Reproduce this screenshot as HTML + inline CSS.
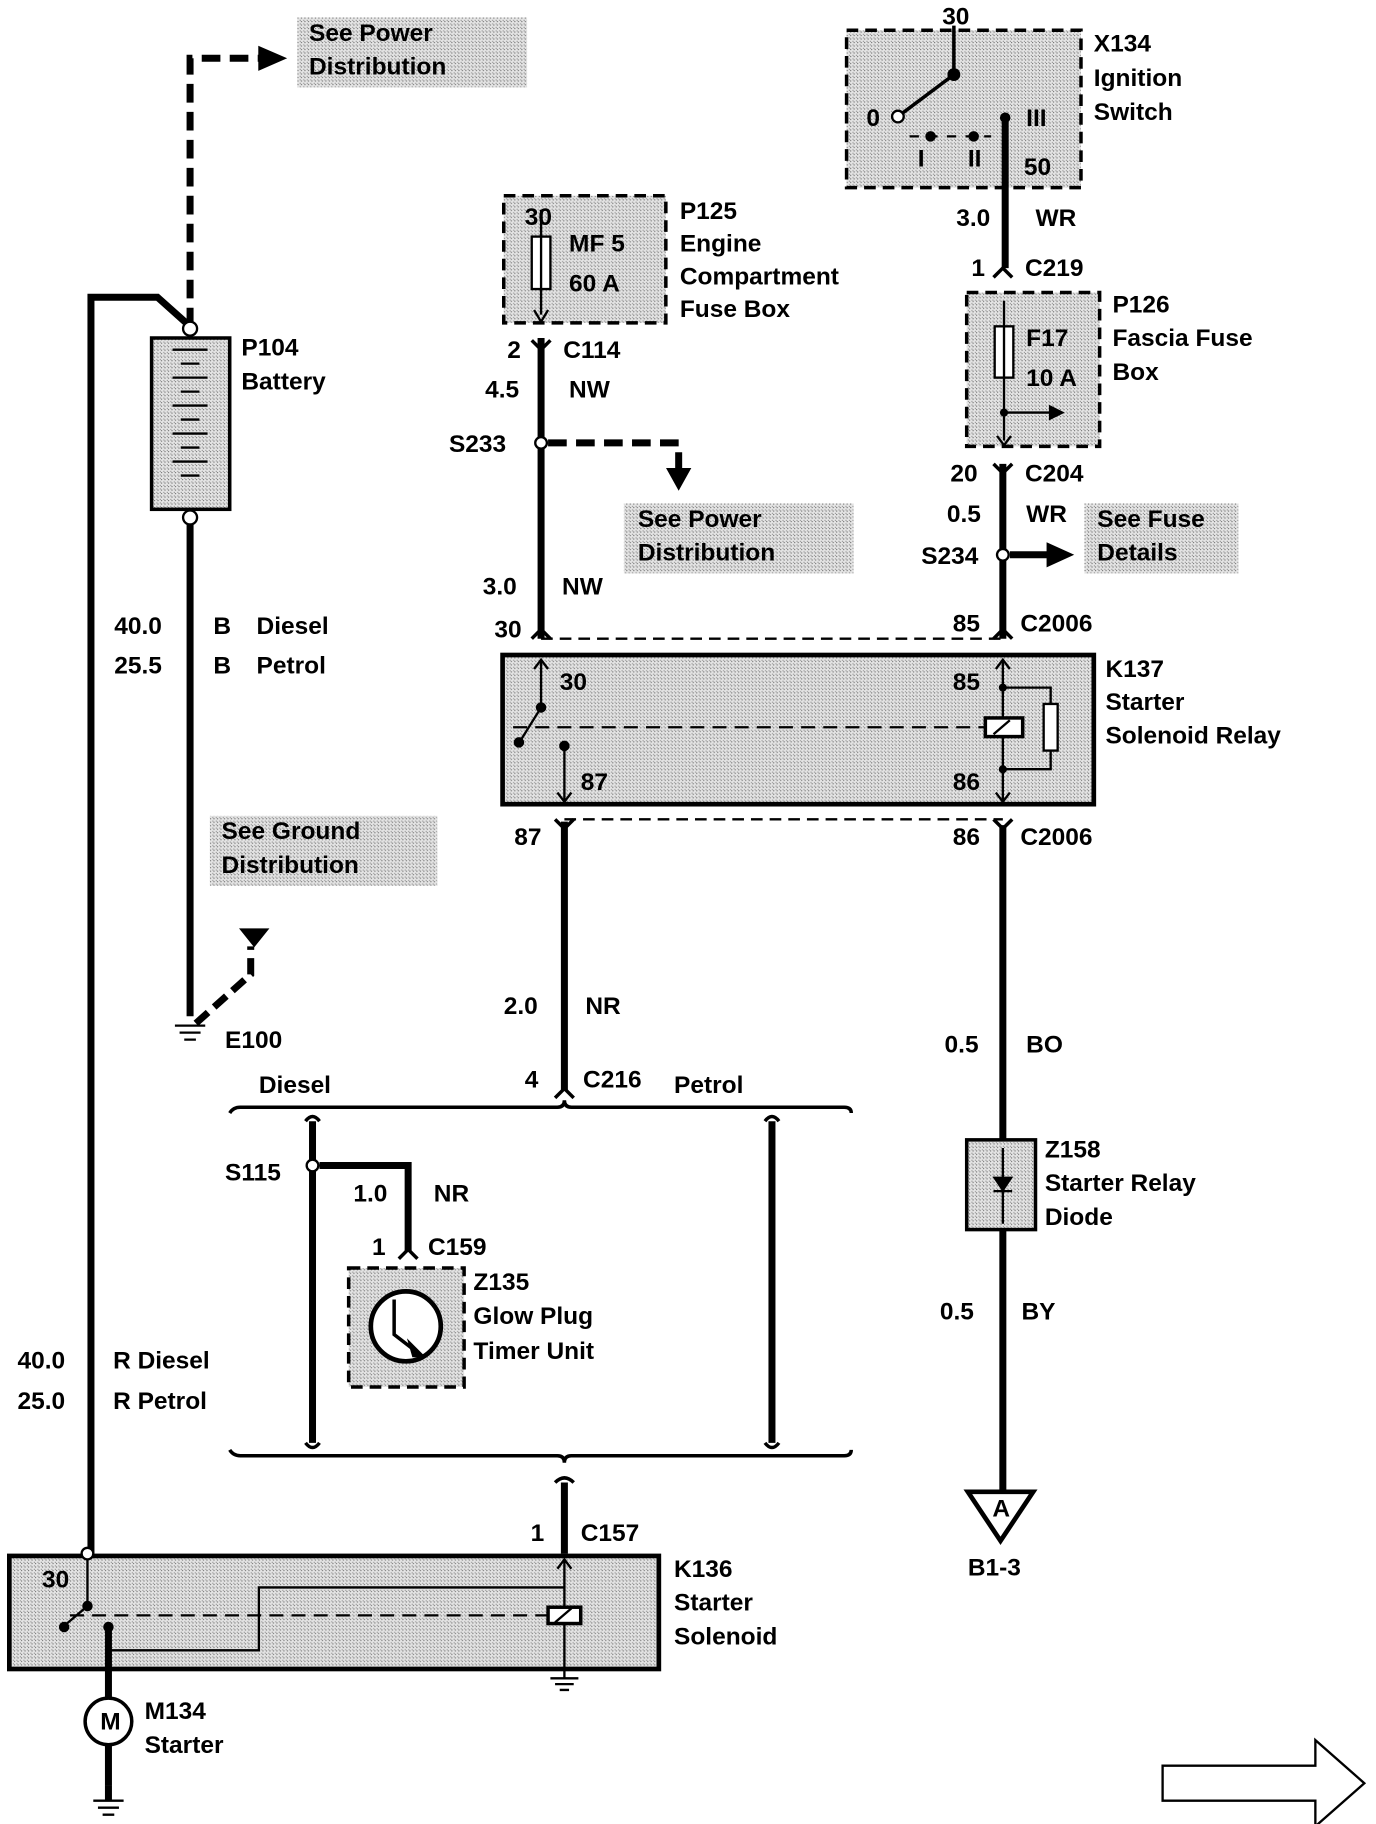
<!DOCTYPE html>
<html><head><meta charset="utf-8"><style>
html,body{margin:0;padding:0;background:#fff}
svg{display:block}
text{font-family:"Liberation Sans",sans-serif;font-weight:bold;font-size:21px;fill:#000}
</style></head><body>
<svg width="1376" height="1824" viewBox="0 0 1180 1565" preserveAspectRatio="none" xmlns="http://www.w3.org/2000/svg">
<defs>
<pattern id="h" width="3" height="3" patternUnits="userSpaceOnUse"><rect width="3" height="3" fill="#e4e4e4"/><rect width="1" height="1" fill="#777"/><rect x="2" y="2" width="1" height="1" fill="#999"/></pattern>
<marker id="ar" markerWidth="6" markerHeight="6" refX="3" refY="3" orient="auto" markerUnits="strokeWidth"><path d="M0,0 L6,3 L0,6 z" fill="#000"/></marker>
</defs>
<g fill="none" stroke="#000">
<!-- label boxes -->
<rect x="255" y="15" width="197" height="60" fill="url(#h)" stroke="none"/>
<rect x="535" y="432" width="197" height="60" fill="url(#h)" stroke="none"/>
<rect x="930" y="432" width="132" height="60" fill="url(#h)" stroke="none"/>
<rect x="180" y="700" width="195" height="60" fill="url(#h)" stroke="none"/>

<!-- left battery wire -->
<path d="M78,1333 V255 H135 L163,280" stroke-width="6"/>
<path d="M163,280 V50 H222" stroke-width="6" stroke-dasharray="16,8"/>
<path d="M222,40 L245,50 L222,60 z" fill="#000"/>
<circle cx="163" cy="282" r="6" fill="#fff" stroke-width="2"/>
<rect x="130" y="290" width="67" height="147" fill="url(#h)" stroke-width="3"/>
<g stroke-width="2"><path d="M148,300 H178 M155,312 H171 M148,324 H178 M155,336 H171 M148,348 H178 M155,360 H171 M148,372 H178 M155,384 H171 M148,396 H178 M155,408 H171"/></g>
<circle cx="163" cy="444" r="6" fill="#fff" stroke-width="2"/>
<path d="M163,450 V872" stroke-width="6"/>
<path d="M150,880 H176 M154,886 H172 M158,892 H168" stroke-width="2"/>
<path d="M168,878 L215,836 V812" stroke-width="6" stroke-dasharray="14,7"/>
<path d="M206,797 L230,797 L218,812 z" fill="#000"/>

<!-- P125 -->
<rect x="432" y="168" width="139" height="109" fill="url(#h)" stroke-width="3" stroke-dasharray="10,6"/>
<rect x="456" y="203" width="16" height="45" fill="#fff" stroke-width="2"/>
<path d="M464,180 V270" stroke-width="2"/><path d="M458,266 L464,276 L470,266" stroke-width="2"/>
<path d="M464,290 V548" stroke-width="6"/>
<path d="M456,292 L464,300 L472,292" stroke-width="3"/>
<circle cx="464" cy="380" r="5" fill="#fff" stroke-width="2"/>
<path d="M470,380 H582 V405" stroke-width="6" stroke-dasharray="16,8"/>
<path d="M572,402 L592,402 L582,420 z" fill="#000"/>
<path d="M456,548 L464,540 L472,548" stroke-width="3"/>
<path d="M464,548 H860" stroke-width="2" stroke-dasharray="10,6"/>

<!-- K137 -->
<rect x="431" y="562" width="507" height="128" fill="url(#h)" stroke-width="4"/>
<path d="M464,566 V607 L446,636" stroke-width="2"/>
<circle cx="464" cy="607" r="4" fill="#000"/><circle cx="445" cy="637" r="4" fill="#000"/>
<path d="M484,640 V688" stroke-width="2"/><circle cx="484" cy="640" r="4" fill="#000"/>
<path d="M458,574 L464,566 L470,574 M478,680 L484,688 L490,680" stroke-width="2"/>
<path d="M440,624 H845" stroke-width="2" stroke-dasharray="12,7"/>
<path d="M860,566 V688" stroke-width="2"/>
<path d="M854,574 L860,566 L866,574 M854,680 L860,688 L866,680" stroke-width="2"/>
<rect x="845" y="616" width="32" height="16" fill="#fff" stroke-width="3"/><path d="M852,630 L866,618" stroke-width="2"/>
<path d="M860,590 H901 V660 H860" stroke-width="2"/>
<rect x="895" y="604" width="12" height="40" fill="#fff" stroke-width="2"/>
<circle cx="860" cy="590" r="3" fill="#000"/><circle cx="860" cy="660" r="3" fill="#000"/>
<path d="M484,703 H860" stroke-width="2" stroke-dasharray="10,6"/>
<path d="M476,703 L484,711 L492,703 M852,703 L860,711 L868,703" stroke-width="3"/>
<path d="M484,705 V935" stroke-width="6"/>
<path d="M476,942 L484,934 L492,942" stroke-width="3"/>

<!-- bracket -->
<path d="M197,955 Q200,950 206,950 H478 Q484,950 484,944 Q484,950 490,950 H724 Q730,950 730,955" stroke-width="3"/>
<path d="M197,1244 Q200,1249 206,1249 H478 Q484,1249 484,1255 Q484,1249 490,1249 H724 Q730,1249 730,1244" stroke-width="3"/>
<path d="M268,962 V1238 M662,962 V1238" stroke-width="6"/>
<path d="M262,962 Q268,954 274,962 M656,962 Q662,954 668,962" stroke-width="3"/>
<path d="M262,1238 Q268,1246 274,1238 M656,1238 Q662,1246 668,1238" stroke-width="3"/>
<circle cx="268" cy="1000" r="5" fill="#fff" stroke-width="2"/>
<path d="M274,1000 H350 V1074" stroke-width="6"/>
<path d="M342,1080 L350,1072 L358,1080" stroke-width="3"/>
<rect x="299" y="1088" width="99" height="102" fill="url(#h)" stroke-width="3" stroke-dasharray="10,6"/>
<circle cx="348" cy="1138" r="30" fill="#fff" stroke-width="4"/>
<path d="M338,1115 V1145 L360,1162" stroke-width="3"/><path d="M350,1150 L364,1164 L354,1164 z" fill="#000"/>

<!-- C157 + K136 -->
<path d="M484,1272 V1333" stroke-width="6"/>
<path d="M476,1272 Q484,1264 492,1272" stroke-width="3"/>
<rect x="8" y="1335" width="557" height="97" fill="url(#h)" stroke-width="4"/>
<circle cx="75" cy="1333" r="5" fill="#fff" stroke-width="2"/>
<path d="M75,1338 V1378 L55,1395" stroke-width="2"/><circle cx="75" cy="1378" r="4" fill="#000"/><circle cx="55" cy="1396" r="4" fill="#000"/>
<path d="M60,1386 H470" stroke-width="2" stroke-dasharray="12,7"/>
<circle cx="93" cy="1396" r="4" fill="#000"/>
<path d="M93,1396 V1416 H222 V1362 H484" stroke-width="2"/>
<path d="M484,1338 V1440" stroke-width="2"/><path d="M478,1346 L484,1338 L490,1346" stroke-width="2"/>
<rect x="470" y="1379" width="28" height="14" fill="#fff" stroke-width="3"/><path d="M476,1392 L490,1380" stroke-width="2"/>
<path d="M472,1440 H496 M476,1445 H492 M480,1450 H488" stroke-width="2"/>
<path d="M93,1396 V1458 M93,1497 V1532" stroke-width="6"/>
<circle cx="93" cy="1477" r="20" fill="#fff" stroke-width="3"/>
<path d="M80,1545 H106 M84,1551 H102 M88,1557 H98" stroke-width="2"/><path d="M93,1532 V1545" stroke-width="6"/>

<!-- X134 -->
<rect x="726" y="26" width="201" height="135" fill="url(#h)" stroke-width="3" stroke-dasharray="10,6"/>
<path d="M818,22 V64 L770,100" stroke-width="3"/>
<circle cx="818" cy="64" r="5" fill="#000"/><circle cx="770" cy="100" r="5" fill="#fff" stroke-width="2"/>
<path d="M780,117 H850" stroke-width="2" stroke-dasharray="8,8"/>
<circle cx="798" cy="117" r="4" fill="#000"/><circle cx="835" cy="117" r="4" fill="#000"/><circle cx="862" cy="101" r="4" fill="#000"/>
<path d="M862,101 V230" stroke-width="6"/>
<path d="M852,238 L860,230 L868,238" stroke-width="3"/>
<!-- P126 -->
<rect x="829" y="251" width="114" height="132" fill="url(#h)" stroke-width="3" stroke-dasharray="10,6"/>
<rect x="853" y="280" width="16" height="44" fill="#fff" stroke-width="2"/>
<path d="M861,258 V378 M861,354 H905" stroke-width="2"/>
<path d="M900,348 L912,354 L900,360 z" fill="#000"/><circle cx="861" cy="354" r="3" fill="#000"/>
<path d="M855,374 L861,382 L867,374" stroke-width="2"/>
<path d="M860,398 V548" stroke-width="6"/>
<path d="M852,398 L860,406 L868,398 M852,548 L860,540 L868,548" stroke-width="3"/>
<circle cx="860" cy="476" r="5" fill="#fff" stroke-width="2"/>
<path d="M866,476 H900" stroke-width="6"/><path d="M898,466 L920,476 L898,486 z" fill="#000"/>
<path d="M860,708 V1280" stroke-width="6"/>
<rect x="829" y="978" width="59" height="77" fill="url(#h)" stroke-width="3"/>
<path d="M860,985 V1050" stroke-width="2"/><path d="M852,1010 H868 L860,1022 z" fill="#000"/><path d="M852,1022 H868" stroke-width="2"/>
<path d="M830,1280 H886 L858,1322 z" fill="#fff" stroke-width="4"/>
<path d="M997,1515 H1128 V1493 L1170,1530 L1128,1567 V1545 H997 z" fill="#fff" stroke-width="2"/>
</g>

<!-- text -->
<text x="265" y="35">See Power</text><text x="265" y="64">Distribution</text>
<text x="207" y="305">P104</text><text x="207" y="334">Battery</text>
<text x="98" y="544">40.0</text><text x="183" y="544">B</text><text x="220" y="544">Diesel</text>
<text x="98" y="578">25.5</text><text x="183" y="578">B</text><text x="220" y="578">Petrol</text>
<text x="190" y="720">See Ground</text><text x="190" y="749">Distribution</text>
<text x="193" y="899">E100</text>
<text x="450" y="193">30</text><text x="488" y="216">MF 5</text><text x="488" y="250">60 A</text>
<text x="583" y="188">P125</text><text x="583" y="216">Engine</text><text x="583" y="244">Compartment</text><text x="583" y="272">Fuse Box</text>
<text x="435" y="307">2</text><text x="483" y="307">C114</text>
<text x="416" y="341">4.5</text><text x="488" y="341">NW</text>
<text x="385" y="388">S233</text>
<text x="547" y="452">See Power</text><text x="547" y="481">Distribution</text>
<text x="414" y="510">3.0</text><text x="482" y="510">NW</text>
<text x="424" y="547">30</text>
<text x="480" y="592">30</text><text x="498" y="678">87</text>
<text x="817" y="592">85</text><text x="817" y="678">86</text>
<text x="948" y="581">K137</text><text x="948" y="609">Starter</text><text x="948" y="638">Solenoid Relay</text>
<text x="441" y="725">87</text><text x="817" y="725">86</text><text x="875" y="725">C2006</text>
<text x="432" y="870">2.0</text><text x="502" y="870">NR</text>
<text x="450" y="933">4</text><text x="500" y="933">C216</text><text x="578" y="938">Petrol</text><text x="222" y="938">Diesel</text>
<text x="193" y="1013">S115</text><text x="303" y="1031">1.0</text><text x="372" y="1031">NR</text>
<text x="319" y="1077">1</text><text x="367" y="1077">C159</text>
<text x="406" y="1107">Z135</text><text x="406" y="1136">Glow Plug</text><text x="406" y="1166">Timer Unit</text>
<text x="15" y="1174">40.0</text><text x="97" y="1174">R Diesel</text>
<text x="15" y="1209">25.0</text><text x="97" y="1209">R Petrol</text>
<text x="455" y="1322">1</text><text x="498" y="1322">C157</text>
<text x="36" y="1362" font-size="19">30</text>
<text x="578" y="1353">K136</text><text x="578" y="1382">Starter</text><text x="578" y="1411">Solenoid</text>
<text x="86" y="1484" font-size="18">M</text>
<text x="124" y="1475">M134</text><text x="124" y="1504">Starter</text>
<text x="808" y="21">30</text><text x="938" y="44">X134</text><text x="938" y="74">Ignition</text><text x="938" y="103">Switch</text>
<text x="743" y="108">0</text><text x="880" y="108">III</text><text x="787" y="143">I</text><text x="830" y="143">II</text><text x="878" y="150">50</text>
<text x="820" y="194">3.0</text><text x="888" y="194">WR</text>
<text x="833" y="237">1</text><text x="879" y="237">C219</text>
<text x="954" y="268">P126</text><text x="954" y="297">Fascia Fuse</text><text x="954" y="326">Box</text>
<text x="880" y="297">F17</text><text x="880" y="331">10 A</text>
<text x="815" y="413">20</text><text x="879" y="413">C204</text>
<text x="812" y="448">0.5</text><text x="880" y="448">WR</text>
<text x="790" y="484">S234</text>
<text x="941" y="452">See Fuse</text><text x="941" y="481">Details</text>
<text x="817" y="542">85</text><text x="875" y="542">C2006</text>
<text x="810" y="903">0.5</text><text x="880" y="903">BO</text>
<text x="896" y="993">Z158</text><text x="896" y="1022">Starter Relay</text><text x="896" y="1051">Diode</text>
<text x="806" y="1132">0.5</text><text x="876" y="1132">BY</text>
<text x="851" y="1301" font-size="16">A</text>
<text x="830" y="1352">B1-3</text>
</svg>
</body></html>
